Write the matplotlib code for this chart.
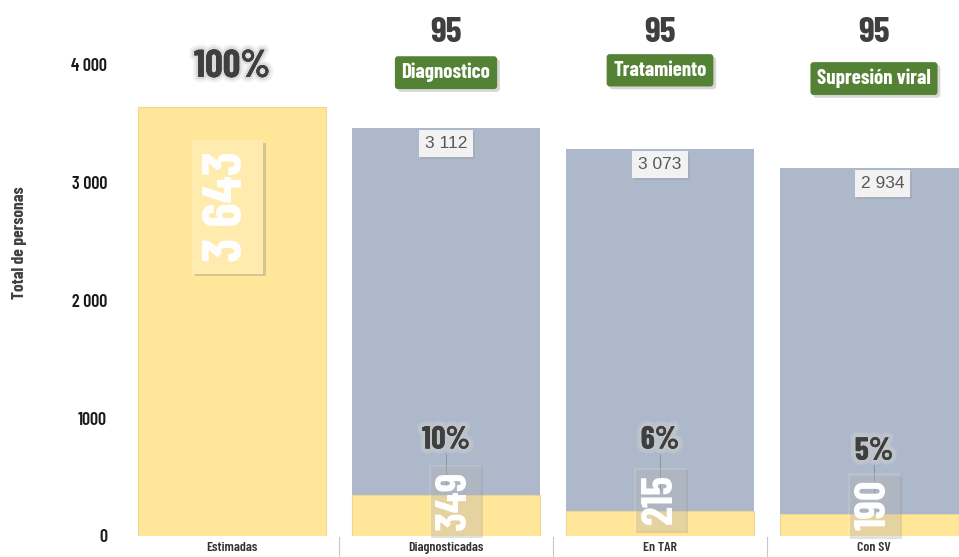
import matplotlib
matplotlib.use("Agg")
import matplotlib.pyplot as plt
import matplotlib.patheffects as pe
import matplotlib.transforms as mtransforms

plt.rcParams['font.family'] = ['Barlow Condensed', 'DejaVu Sans']

# data
categories = ['Estimadas', 'Diagnosticadas', 'En TAR', 'Con SV']
base_vals = [3643, 349, 215, 190]          # yellow part
rest_vals = [3112, 3073, 2934]             # gray part (stacked) for the last three
pct_labels = ['100%', '10%', '6%', '5%']
targets = ['95', '95', '95']
stages = ['Diagnostico', 'Tratamiento', 'Supresión viral']
ytick_vals = [0, 1000, 2000, 3000, 4000]
ytick_labels = ['0', '1000', '2 000', '3 000', '4 000']

YELLOW = '#FFE699'
GRAY = '#ADB9CA'
GREEN = '#548235'
DARK = '#3f3f3f'


def fmt(v):
    return f"{v:,}".replace(',', ' ')


fig = plt.figure(figsize=(9.59, 5.57), dpi=100)
ax = fig.add_axes([125 / 959, 21 / 557, 856 / 959, 536 / 557])
ax.set_xlim(-0.5, 3.5)
ax.set_ylim(0, 4552)

x = list(range(len(categories)))
w = 0.875
ax.bar(x, base_vals, width=w, color=YELLOW, edgecolor='#EFD690', linewidth=0.8, zorder=2)
ax.bar(x[1:], rest_vals, width=w, bottom=base_vals[1:], color=GRAY, zorder=2)

for s in ax.spines.values():
    s.set_visible(False)

ax.set_yticks(ytick_vals)
ax.set_yticklabels(ytick_labels, fontsize=13, fontweight='semibold', color='#1a1a1a')
ax.set_xticks(x)
ax.set_xticklabels(categories, fontsize=10, fontweight='semibold', color='#333333')
ax.tick_params(axis='y', length=0, pad=13)
ax.tick_params(axis='x', length=0, pad=4)

# separators between categories under the axis
trans = mtransforms.blended_transform_factory(ax.transData, ax.transAxes)
for b in [0.5, 1.5, 2.5]:
    ax.plot([b, b], [-0.002, -0.04], color='#c8c8c8', lw=0.8, transform=trans, clip_on=False)

fig.text(20 / 959, 1 - 243 / 557, 'Total de personas', rotation=90, ha='center', va='center',
         fontsize=12.5, fontweight='bold', color='#404040')

glow = [pe.withStroke(linewidth=7, foreground='#d4d4d4', alpha=0.35),
        pe.withStroke(linewidth=3.5, foreground='#c8c8c8', alpha=0.5), pe.Normal()]
shadow = [pe.SimplePatchShadow(offset=(2, -2), shadow_rgbFace='#8a8a8a', alpha=0.35), pe.Normal()]
soft_shadow = [pe.SimplePatchShadow(offset=(1.5, -1.5), shadow_rgbFace='#8a8a8a', alpha=0.25), pe.Normal()]

# first bar: total estimated
ax.text(0, base_vals[0] + 340, pct_labels[0], ha='center', va='center', fontsize=28,
        fontweight='bold', color=DARK, path_effects=glow, zorder=5)
t = ax.text(-0.02, base_vals[0] * 0.767, fmt(base_vals[0]), ha='center', va='center', rotation=90,
            fontsize=40, fontweight='bold', color='white', zorder=5,
            bbox=dict(boxstyle='square,pad=0.2', fc='#FFEBAE', ec='none'))
t.get_bbox_patch().set_path_effects(shadow)

pct_y = [815, 815, 720]
small_y = [300, 310, 262]
head_y = [3935, 3955, 3885]
top_dx = [0, 0, 0.04]
for i in range(3):
    xi = x[i + 1]
    total = base_vals[i + 1] + rest_vals[i]
    # target header and green stage box
    ax.text(xi, 4275, targets[i], ha='center', va='center', fontsize=26, fontweight='bold',
            color=DARK, zorder=5, clip_on=False)
    tb = ax.text(xi, head_y[i], stages[i], ha='center', va='center', fontsize=15,
                 fontweight='bold', color='white', zorder=5,
                 bbox=dict(boxstyle='round,pad=0.32,rounding_size=0.15', fc=GREEN, ec='none'))
    tb.get_bbox_patch().set_path_effects(shadow)
    # gray value label near the top
    tg = ax.text(xi + top_dx[i], total - 130, fmt(rest_vals[i]), ha='center', va='center',
                 fontsize=12.5, color='#595959', family=['Liberation Sans', 'DejaVu Sans'], zorder=5,
                 bbox=dict(boxstyle='square,pad=0.35', fc='#F2F2F2', ec='none'))
    tg.get_bbox_patch().set_path_effects(soft_shadow)
    # connector line from percent to small value
    ax.plot([xi, xi], [pct_y[i] - 120, small_y[i] + 80], color='#8c8c8c', lw=0.6, zorder=4)
    ax.text(xi, pct_y[i], pct_labels[i + 1], ha='center', va='center', fontsize=23,
            fontweight='bold', color=DARK, path_effects=glow, zorder=5)
    ts = ax.text(xi + 0.04 * (i == 0), small_y[i], fmt(base_vals[i + 1]), ha='center', va='center',
                 rotation=90, fontsize=31, fontweight='bold', color='white', zorder=5,
                 bbox=dict(boxstyle='square,pad=0.15', fc=(1, 1, 1, 0.12), ec='none'))
    ts.get_bbox_patch().set_path_effects(soft_shadow)

fig.savefig('out.png', dpi=100)
